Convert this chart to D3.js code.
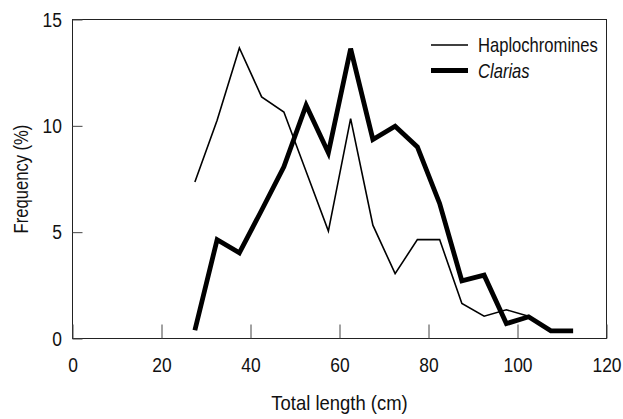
<!DOCTYPE html>
<html>
<head>
<meta charset="utf-8">
<script src="https://cdn.jsdelivr.net/npm/d3@7"></script>
<style>
  body { margin: 0; background: #fff; }
  svg text { font-family: "Liberation Sans", Arial, sans-serif; fill: #111; }
</style>
</head>
<body>
<div id="chart"></div>
<script>
// Size-class midpoints (cm)
const haploLength = [27.5, 32.5, 37.5, 42.5, 47.5, 52.5, 57.5, 62.5, 67.5, 72.5, 77.5, 82.5, 87.5, 92.5, 97.5, 102.5];
const haploFreq   = [7.36, 10.26, 13.66, 11.36, 10.65, 7.85, 5.05, 10.34, 5.33, 3.05, 4.65, 4.65, 1.65, 1.05, 1.35, 1.05];

const clariasLength = [27.5, 32.5, 37.5, 42.5, 47.5, 52.5, 57.5, 62.5, 67.5, 72.5, 77.5, 82.5, 87.5, 92.5, 97.5, 102.5, 107.5, 112.5];
const clariasFreq   = [0.39, 4.65, 4.03, 6.03, 8.07, 10.97, 8.73, 13.63, 9.36, 9.98, 9.01, 6.35, 2.71, 2.98, 0.70, 1.02, 0.36, 0.36];

const xTicks = [0, 20, 40, 60, 80, 100, 120];
const yTicks = [0, 5, 10, 15];

const width = 623, height = 419;
const margins = { top: 19.5, right: 16.5, bottom: 80.5, left: 72.5 };
const squeeze = 0.83; // the original type is a narrow sans

const svg = d3.select("#chart")
  .append("svg")
  .attr("width", width)
  .attr("height", height);

const xScale = d3.scaleLinear()
  .domain([0, 120])
  .range([margins.left, width - margins.right]);

const yScale = d3.scaleLinear()
  .domain([0, 15])
  .range([height - margins.bottom, margins.top]);

// Frame round the plot
svg.append("rect")
  .attr("x", xScale(0))
  .attr("y", yScale(15))
  .attr("width", xScale(120) - xScale(0))
  .attr("height", yScale(0) - yScale(15))
  .attr("fill", "none")
  .attr("stroke", "#222")
  .attr("stroke-width", 1);

// x axis, ticks pointing inward
const xAxis = d3.axisBottom(xScale)
  .tickValues(xTicks)
  .tickSize(-14)
  .tickPadding(19)
  .tickFormat(d3.format("d"));

svg.append("g")
  .attr("transform", `translate(0, ${yScale(0)})`)
  .call(xAxis)
  .call(g => g.select(".domain").remove())
  .call(g => g.selectAll("line").attr("stroke", "#444"))
  .call(g => g.selectAll("text")
    .style("font-size", "21px")
    .attr("transform", `scale(${squeeze},1)`));

// y axis, ticks pointing inward
const yAxis = d3.axisLeft(yScale)
  .tickValues(yTicks)
  .tickSize(-10);

svg.append("g")
  .attr("transform", `translate(${xScale(0)}, 0)`)
  .call(yAxis)
  .call(g => g.select(".domain").remove())
  .call(g => g.selectAll("line").attr("stroke", "#444"))
  .call(g => g.selectAll("text")
    .style("font-size", "21px")
    .attr("x", -10.5 / squeeze)
    .attr("transform", `scale(${squeeze},1)`));

// Axis titles
svg.append("text")
  .attr("transform", `translate(${xScale(60)}, 410) scale(0.9,1)`)
  .attr("text-anchor", "middle")
  .style("font-size", "20.5px")
  .text("Total length (cm)");

svg.append("text")
  .attr("transform", `translate(28, ${(yScale(0) + yScale(15)) / 2}) rotate(-90) scale(${squeeze},1)`)
  .attr("text-anchor", "middle")
  .style("font-size", "20px")
  .text("Frequency (%)");

// Lines
const line = d3.line()
  .x(d => xScale(d[0]))
  .y(d => yScale(d[1]));

svg.append("path")
  .datum(d3.zip(haploLength, haploFreq))
  .attr("d", line)
  .attr("fill", "none")
  .attr("stroke", "#000")
  .attr("stroke-width", 1.6)
  .attr("stroke-linejoin", "miter");

svg.append("path")
  .datum(d3.zip(clariasLength, clariasFreq))
  .attr("d", line)
  .attr("fill", "none")
  .attr("stroke", "#000")
  .attr("stroke-width", 4.8)
  .attr("stroke-linejoin", "miter");

// Legend
const legend = svg.append("g");
const legendItems = [
  { name: "Haplochromines", w: 1.6, italic: false, y: 45 },
  { name: "Clarias", w: 4.8, italic: true, y: 70.5 }
];
legendItems.forEach(d => {
  legend.append("line")
    .attr("x1", 431).attr("x2", 468)
    .attr("y1", d.y).attr("y2", d.y)
    .attr("stroke", "#000")
    .attr("stroke-width", d.w);
  legend.append("text")
    .attr("transform", `translate(478, ${d.y}) scale(${squeeze},1)`)
    .attr("dy", "0.35em")
    .style("font-size", "20px")
    .style("font-style", d.italic ? "italic" : "normal")
    .text(d.name);
});
</script>
</body>
</html>
